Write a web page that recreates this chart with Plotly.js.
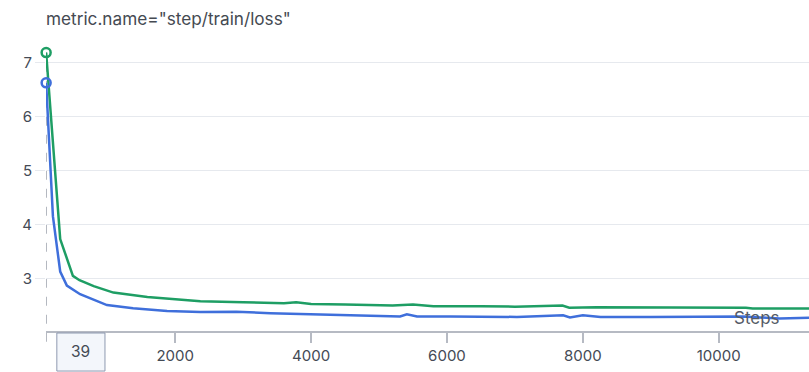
<!DOCTYPE html>
<html>
<head>
<meta charset="utf-8">
<script src="https://cdn.plot.ly/plotly-3.0.1.min.js"></script>
<style>html,body{margin:0;padding:0;background:#fff;}#chart{width:809px;height:372px;}</style>
</head>
<body>
<div id="chart"></div>
<script>
var chartTitle = 'metric.name="step/train/loss"';
var xAxisLabel = 'Steps';
var hoverStep = '39';

var greenSteps = [100, 307, 494, 591, 800, 1090, 1590, 2370, 3000, 3600, 3780, 4000, 4500, 5200, 5500, 5800, 6500, 7000, 7700, 7800, 8200, 8700, 9500, 10400, 10500, 11400];
var greenLoss  = [7.18, 3.73, 3.05, 2.97, 2.86, 2.74, 2.66, 2.58, 2.56, 2.545, 2.56, 2.53, 2.52, 2.50, 2.52, 2.49, 2.49, 2.48, 2.50, 2.46, 2.47, 2.47, 2.46, 2.46, 2.445, 2.445];

var blueSteps = [100, 200, 307, 381, 405, 600, 995, 1380, 1880, 2370, 2900, 3400, 4080, 4800, 5310, 5410, 5560, 6050, 7030, 7710, 7810, 8000, 8260, 9000, 9720, 10360, 10900, 11400];
var blueLoss  = [6.62, 4.15, 3.13, 2.94, 2.87, 2.71, 2.51, 2.45, 2.40, 2.38, 2.385, 2.36, 2.34, 2.32, 2.30, 2.34, 2.30, 2.30, 2.29, 2.32, 2.28, 2.32, 2.29, 2.29, 2.29, 2.30, 2.26, 2.28];

var yTicks = [3, 4, 5, 6, 7];

var green = '#1e9e64';
var blue = '#3f6fdb';

var traces = [
  {x: greenSteps, y: greenLoss, mode: 'lines', line: {color: green, width: 2.5}, cliponaxis: false, hoverinfo: 'skip'},
  {x: blueSteps, y: blueLoss, mode: 'lines', line: {color: blue, width: 2.5}, cliponaxis: false, hoverinfo: 'skip'},
  {x: greenSteps.slice(0, 1), y: greenLoss.slice(0, 1), mode: 'markers', cliponaxis: false,
   marker: {symbol: 'circle-open', size: 9, opacity: 1, color: green, line: {color: green, width: 2.5}}},
  {x: blueSteps.slice(0, 1), y: blueLoss.slice(0, 1), mode: 'markers', cliponaxis: false,
   marker: {symbol: 'circle-open', size: 9, opacity: 1, color: blue, line: {color: blue, width: 2.5}}}
];

var layout = {
  width: 809, height: 372,
  margin: {l: 46, r: 0, t: 45, b: 41},
  paper_bgcolor: '#ffffff', plot_bgcolor: '#ffffff',
  showlegend: false,
  font: {family: 'Inter, "Noto Sans", sans-serif', color: '#444a55', size: 14},
  title: {text: chartTitle, x: 0, xref: 'paper', xanchor: 'left', y: 0.95, yanchor: 'middle',
          font: {size: 17.2, color: '#454a52'}},
  xaxis: {
    range: [98, 11329], tick0: 0, dtick: 2000, tickformat: 'd',
    showgrid: false, zeroline: false, showline: true, linecolor: '#b6bac3', linewidth: 1.5,
    ticks: 'outside', ticklen: 10, tickcolor: '#b6bac3', tickwidth: 1.5,
    tickfont: {size: 15, color: '#444a55'}
  },
  yaxis: {
    range: [2.03, 7.32], tickvals: yTicks, ticktext: yTicks.map(String),
    showgrid: true, gridcolor: '#e6e9ee', gridwidth: 1, zeroline: false, showline: false,
    ticks: 'outside', ticklen: 10, tickcolor: '#e6e9ee',
    tickfont: {size: 15, color: '#444a55'}
  },
  shapes: [
    {type: 'line', xref: 'x', yref: 'paper', x0: greenSteps[0], x1: greenSteps[0], y0: -0.038, y1: 0.975,
     line: {color: '#9aa0aa', width: 1.2, dash: 'dash'}, layer: 'below'},
    {type: 'rect', xref: 'paper', yref: 'paper', x0: 0.0142, x1: 0.0773, y0: -0.007, y1: -0.14,
     fillcolor: '#f3f6fb', line: {color: '#8e99b0', width: 1}, layer: 'above'}
  ],
  annotations: [
    {text: xAxisLabel, xref: 'paper', yref: 'paper', x: 1, y: 0, xanchor: 'right', yanchor: 'middle',
     xshift: -27, yshift: 13, showarrow: false, font: {size: 17, color: '#555b66'}},
    {text: hoverStep, xref: 'paper', yref: 'paper', x: 0.0457, y: -0.072, xanchor: 'center', yanchor: 'middle',
     showarrow: false, font: {size: 15.5, color: '#444a55'}}
  ]
};

Plotly.newPlot('chart', traces, layout, {displayModeBar: false});
</script>
</body>
</html>
